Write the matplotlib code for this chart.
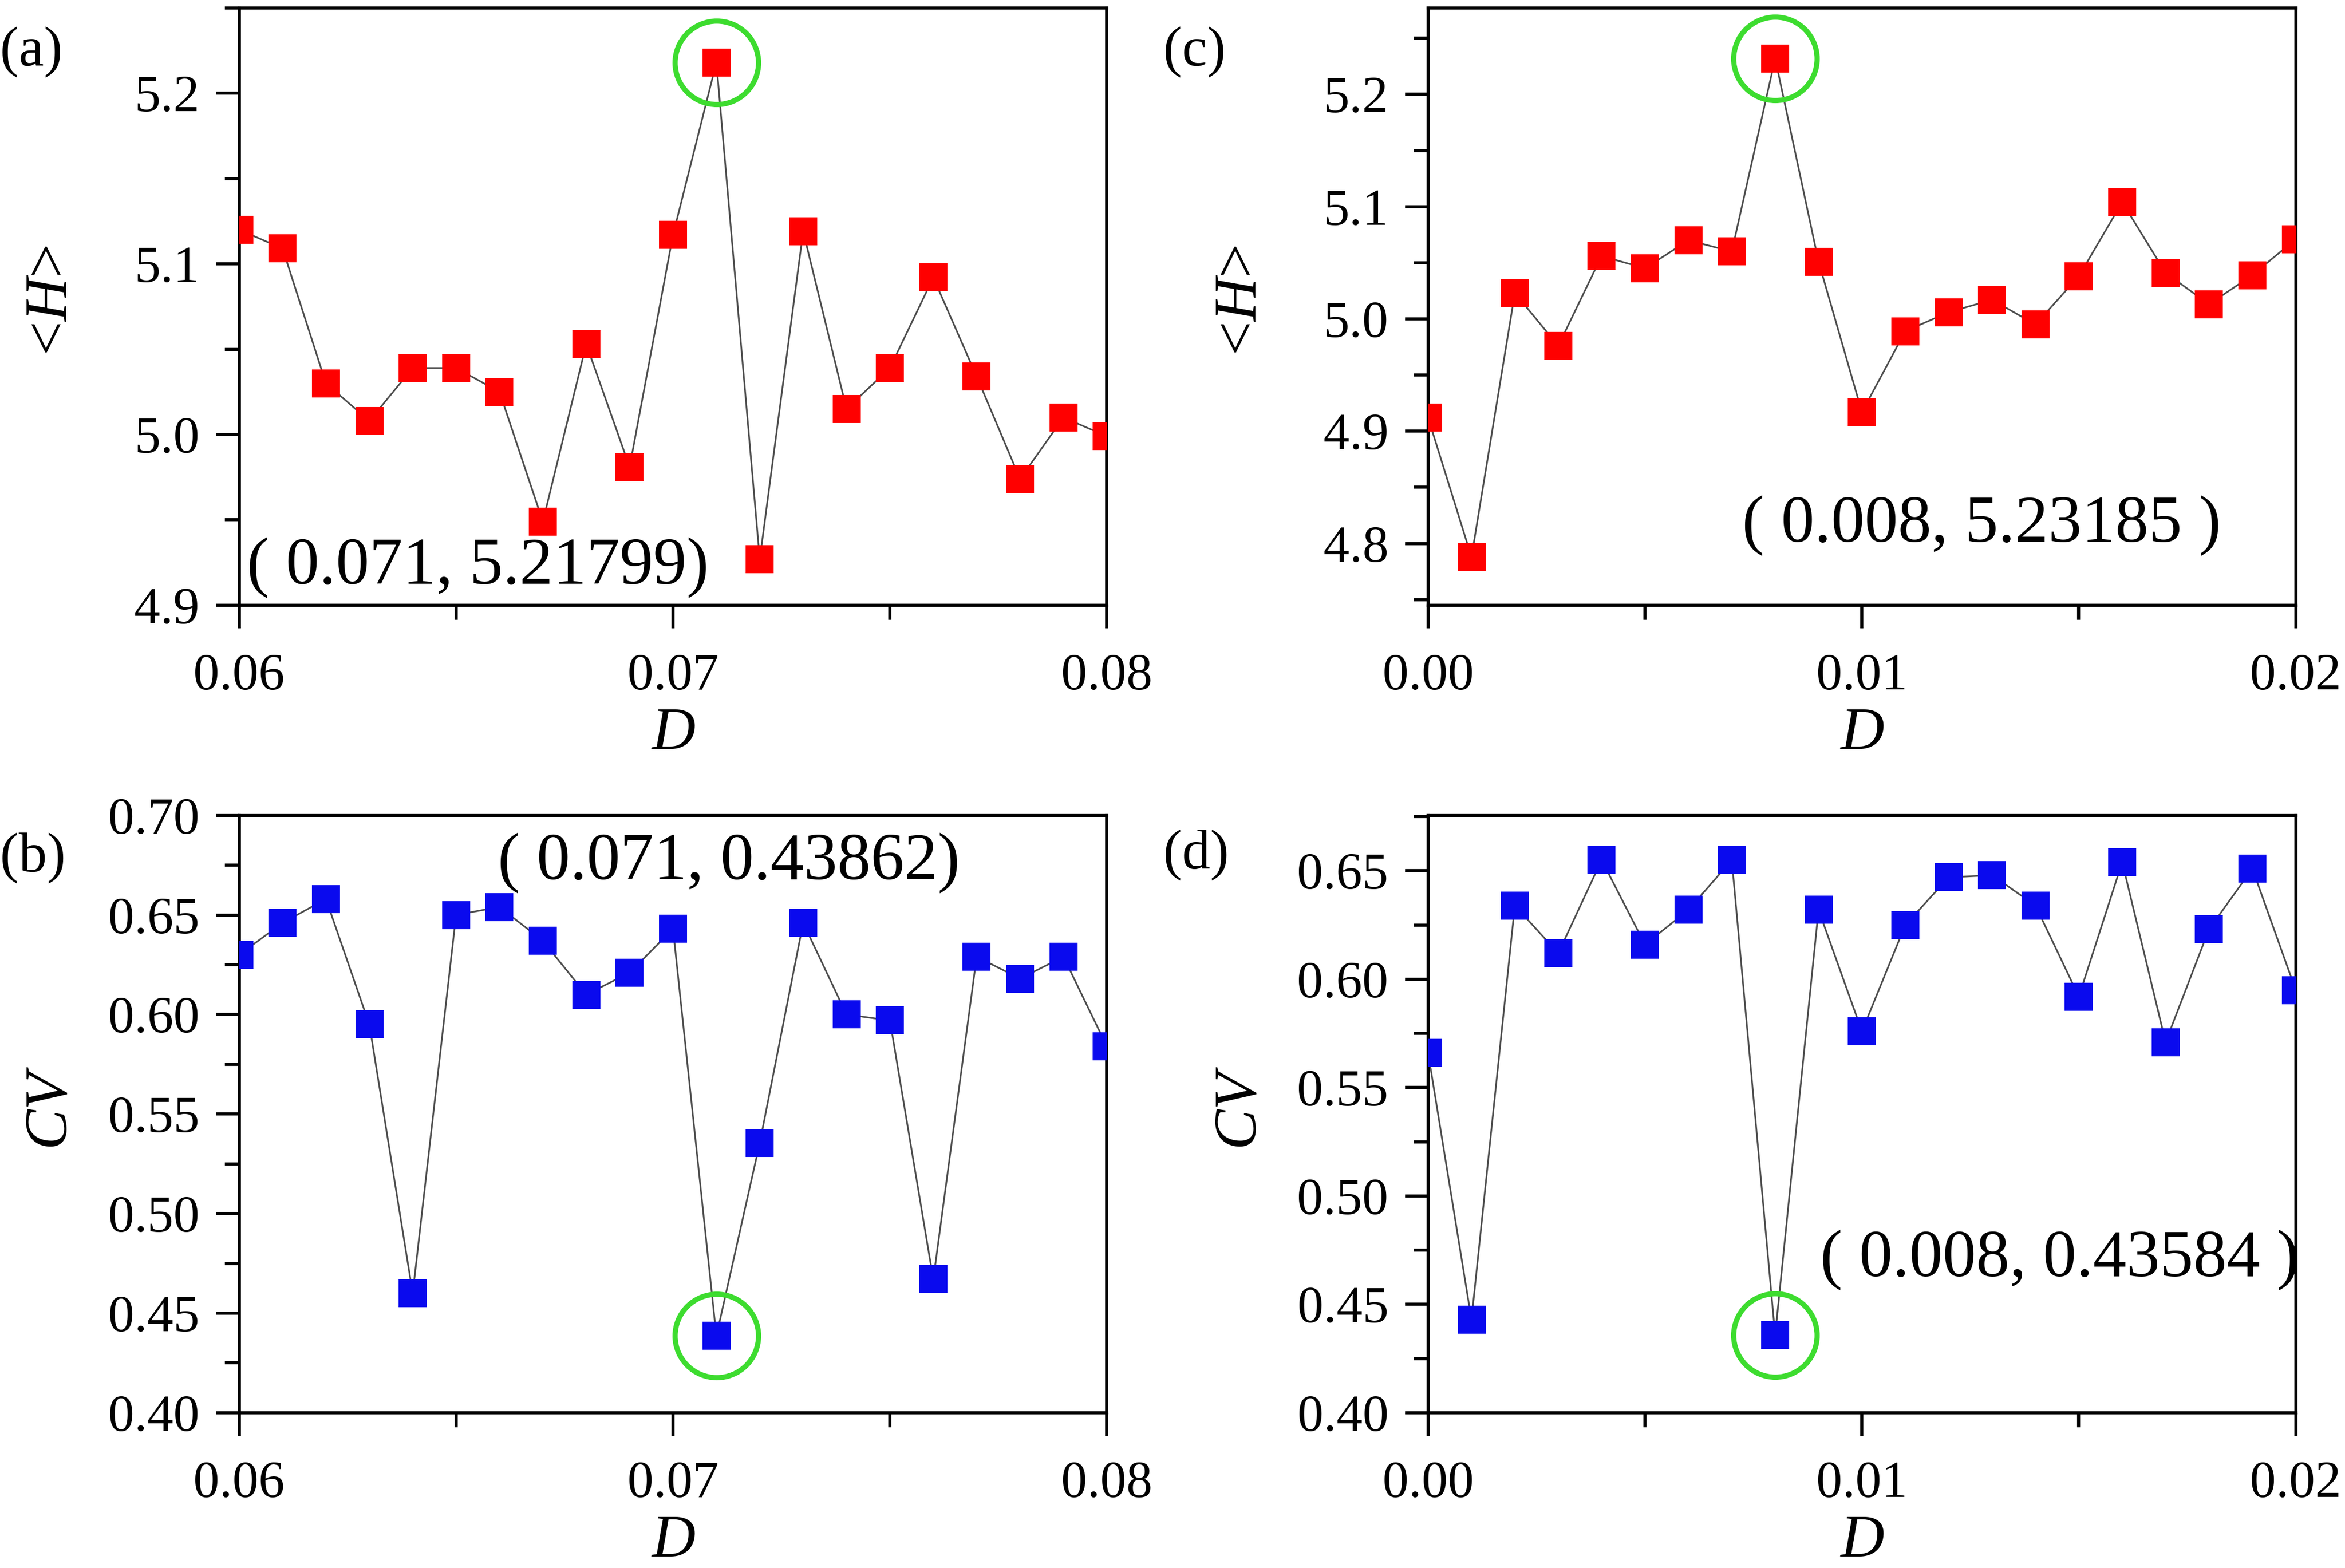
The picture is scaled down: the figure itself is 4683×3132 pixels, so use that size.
import matplotlib
matplotlib.use("Agg")
import matplotlib.pyplot as plt
from matplotlib.ticker import MultipleLocator, FormatStrFormatter

plt.rcParams['font.family'] = ['Liberation Serif', 'DejaVu Serif']
plt.rcParams['mathtext.fontset'] = 'custom'
plt.rcParams['mathtext.rm'] = 'Liberation Serif'
plt.rcParams['mathtext.it'] = 'Liberation Serif:italic'

# ---------------- data ----------------
D_ab = [0.060, 0.061, 0.062, 0.063, 0.064, 0.065, 0.066, 0.067, 0.068, 0.069, 0.070,
        0.071, 0.072, 0.073, 0.074, 0.075, 0.076, 0.077, 0.078, 0.079, 0.080]
H_a = [5.120, 5.109, 5.030, 5.008, 5.039, 5.039, 5.025, 4.949, 5.053, 4.981, 5.117,
       5.21799, 4.927, 5.119, 5.015, 5.039, 5.092, 5.034, 4.974, 5.010, 4.999]
CV_b = [0.630, 0.646, 0.658, 0.595, 0.460, 0.650, 0.654, 0.637, 0.610, 0.621, 0.643,
        0.43862, 0.5355, 0.646, 0.600, 0.597, 0.467, 0.629, 0.618, 0.629, 0.584]

D_cd = [0.000, 0.001, 0.002, 0.003, 0.004, 0.005, 0.006, 0.007, 0.008, 0.009, 0.010,
        0.011, 0.012, 0.013, 0.014, 0.015, 0.016, 0.017, 0.018, 0.019, 0.020]
H_c = [4.912, 4.788, 5.023, 4.976, 5.056, 5.045, 5.070, 5.060, 5.23185, 5.051, 4.917,
       4.989, 5.006, 5.017, 4.995, 5.038, 5.104, 5.041, 5.013, 5.039, 5.071]
CV_d = [0.566, 0.443, 0.634, 0.612, 0.655, 0.616, 0.632, 0.655, 0.43584, 0.632, 0.576,
        0.625, 0.647, 0.648, 0.634, 0.592, 0.654, 0.571, 0.623, 0.651, 0.595]

opt_a = (0.071, 5.21799)
opt_b = (0.071, 0.43862)
opt_c = (0.008, 5.23185)
opt_d = (0.008, 0.43584)

ann_a = "( 0.071, 5.21799)"
ann_b = "( 0.071, 0.43862)"
ann_c = "( 0.008, 5.23185 )"
ann_d = "( 0.008, 0.43584 )"

# ---------------- figure ----------------
fig = plt.figure(figsize=(4683/300, 3132/300), dpi=300)

W, Hh = 0.370, 0.381
ax_a = fig.add_axes([0.102, 0.614, W, Hh])
ax_c = fig.add_axes([0.609, 0.614, W, Hh])
ax_b = fig.add_axes([0.102, 0.099, W, Hh])
ax_d = fig.add_axes([0.609, 0.099, W, Hh])

TICK_FS = 25
LAB_FS = 29
ANN_FS = 32
GREEN = '#3ddc2f'


def style(ax, xlim, xmaj, xmin, xfmt, ylim, ymaj, ymin, yfmt):
    ax.set_xlim(*xlim)
    ax.set_ylim(*ylim)
    ax.xaxis.set_major_locator(MultipleLocator(xmaj))
    ax.xaxis.set_minor_locator(MultipleLocator(xmin))
    ax.yaxis.set_major_locator(MultipleLocator(ymaj))
    ax.yaxis.set_minor_locator(MultipleLocator(ymin))
    ax.xaxis.set_major_formatter(FormatStrFormatter(xfmt))
    ax.yaxis.set_major_formatter(FormatStrFormatter(yfmt))
    for s in ax.spines.values():
        s.set_linewidth(1.5)
    ax.tick_params(which='major', direction='out', length=11, width=1.5,
                   labelsize=TICK_FS, top=False, right=False)
    ax.tick_params(which='minor', direction='out', length=7, width=1.5,
                   top=False, right=False)
    ax.tick_params(axis='x', which='major', pad=12)
    ax.tick_params(axis='y', which='major', pad=8)


def draw(ax, x, y, color, opt):
    ax.plot(x, y, '-', color='0.3', lw=0.8, zorder=2)
    ax.plot(x, y, 's', color=color, ms=13.5, mew=0, zorder=3)
    ax.plot([opt[0]], [opt[1]], 'o', ms=40, mfc='none', mec=GREEN, mew=2.5,
            zorder=4, clip_on=False)


def labels(ax, ylabel):
    ax.set_xlabel('$\\it{D}$', fontsize=LAB_FS)
    ax.xaxis.set_label_coords(0.5, -0.17)
    ax.set_ylabel(ylabel, fontsize=LAB_FS)
    ax.yaxis.set_label_coords(-0.2155, 0.51)
    ax.yaxis.label.set_va('center')


draw(ax_a, D_ab, H_a, '#ff0000', opt_a)
style(ax_a, (0.06, 0.08), 0.01, 0.005, '%.2f', (4.9, 5.25), 0.1, 0.05, '%.1f')
labels(ax_a, '<$\\it{H}$>')
ax_a.text(0.009, 0.0625, ann_a, transform=ax_a.transAxes, fontsize=ANN_FS,
          ha='left', va='center')

draw(ax_c, D_cd, H_c, '#ff0000', opt_c)
style(ax_c, (0.0, 0.02), 0.01, 0.005, '%.2f', (4.745, 5.277), 0.1, 0.05, '%.1f')
labels(ax_c, '<$\\it{H}$>')
ax_c.text(0.362, 0.1325, ann_c, transform=ax_c.transAxes, fontsize=ANN_FS,
          ha='left', va='center')

draw(ax_b, D_ab, CV_b, '#0a0aee', opt_b)
style(ax_b, (0.06, 0.08), 0.01, 0.005, '%.2f', (0.40, 0.70), 0.05, 0.025, '%.2f')
labels(ax_b, '$\\it{CV}$')
ax_b.text(0.298, 0.92, ann_b, transform=ax_b.transAxes, fontsize=ANN_FS,
          ha='left', va='center')

draw(ax_d, D_cd, CV_d, '#0a0aee', opt_d)
style(ax_d, (0.0, 0.02), 0.01, 0.005, '%.2f', (0.40, 0.6756), 0.05, 0.025, '%.2f')
labels(ax_d, '$\\it{CV}$')
ax_d.text(0.452, 0.255, ann_d, transform=ax_d.transAxes, fontsize=ANN_FS,
          ha='left', va='center')

PL_FS = 27
fig.text(0.0, 0.967, '(a)', fontsize=PL_FS, ha='left', va='center')
fig.text(0.0, 0.453, '(b)', fontsize=PL_FS, ha='left', va='center')
fig.text(0.496, 0.967, '(c)', fontsize=PL_FS, ha='left', va='center')
fig.text(0.496, 0.455, '(d)', fontsize=PL_FS, ha='left', va='center')

fig.savefig('out.png', dpi=300)
